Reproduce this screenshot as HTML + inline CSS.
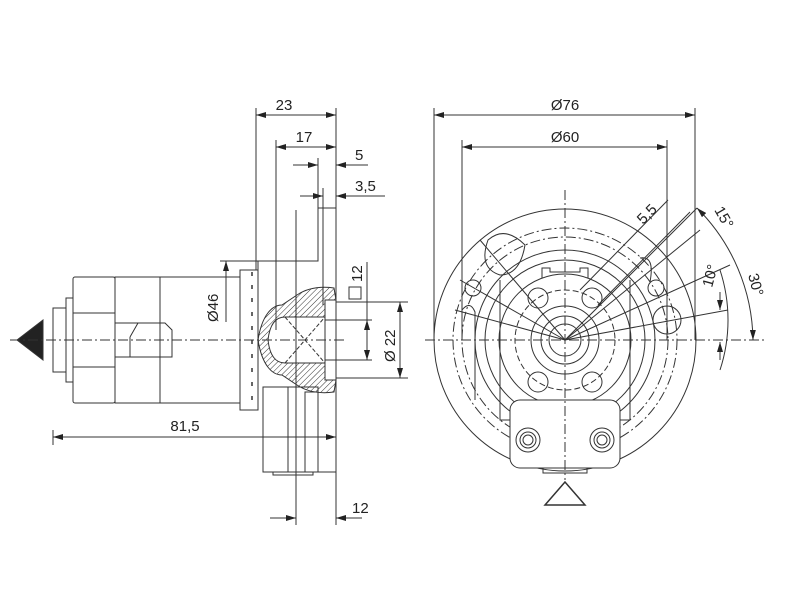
<!DOCTYPE html><html><head><style>body{margin:0;background:#fff}svg{display:block}text{font-family:"Liberation Sans",sans-serif;fill:#222}</style></head><body>
<svg width="800" height="600" viewBox="0 0 800 600" xmlns="http://www.w3.org/2000/svg">
<defs><marker id="a" viewBox="0 0 10 6" refX="10" refY="3" markerWidth="10" markerHeight="6" orient="auto-start-reverse" markerUnits="userSpaceOnUse"><path d="M0,0L10,3L0,6z" fill="#222"/></marker>
<pattern id="h" width="4" height="4" patternUnits="userSpaceOnUse" patternTransform="rotate(45)"><line x1="0" y1="0" x2="0" y2="4" stroke="#333" stroke-width="1"/></pattern></defs>
<g stroke="#333" stroke-width="1" fill="none">
<polygon points="17,340 43,320 43,360" fill="#222"/>
<rect x="53" y="308" width="13" height="64"/><rect x="66" y="298" width="7" height="84"/>
<rect x="73" y="277" width="42" height="126" rx="2"/>
<line x1="73" y1="313" x2="115" y2="313"/><line x1="73" y1="367" x2="115" y2="367"/>
<rect x="115" y="277" width="45" height="126"/><rect x="160" y="277" width="80" height="126"/>
<path d="M115,323H165L172,330V357H115M130,337L138,323M130,337V357"/>
<rect x="240" y="270" width="18" height="140"/>
<g stroke-width="1.5"><path d="M252,272v4M252,285v4M252,298v4M252,312v4M252,326v4M252,340v4M252,354v4M252,368v4M252,382v4M252,396v4"/></g>
<path d="M258,261H318V208H336V525M258,261V387M318,208H323V305"/>
<rect x="263" y="387" width="55" height="85"/><line x1="318" y1="472" x2="336" y2="472"/><line x1="288" y1="387" x2="288" y2="472"/><rect x="305" y="392" width="13" height="80"/>
<path d="M273,472V475H313V472"/>
<path d="M258,340C262,315 272,305 282,305L297,295Q312,285 334,288L336,300H325V380H336L334,392Q312,395 297,385L282,375C272,375 262,365 258,340Z" fill="url(#h)"/>
<path d="M268,340C270,322 277,317 285,317H325V363H285C277,363 270,358 268,340Z" fill="#fff"/>
<path d="M285,317L325,363M285,363L325,317" stroke-dasharray="4,2"/>
<line x1="296" y1="210" x2="296" y2="525"/>
<line x1="256" y1="108" x2="256" y2="270"/><line x1="276" y1="140" x2="276" y2="330"/><line x1="336" y1="108" x2="336" y2="208"/>
<line x1="318" y1="158" x2="318" y2="208"/><line x1="323" y1="188" x2="323" y2="208"/>
<line x1="256" y1="115" x2="336" y2="115" marker-start="url(#a)" marker-end="url(#a)"/>
<line x1="276" y1="147" x2="336" y2="147" marker-start="url(#a)" marker-end="url(#a)"/>
<line x1="293" y1="165" x2="318" y2="165" marker-end="url(#a)"/><line x1="368" y1="165" x2="336" y2="165" marker-end="url(#a)"/>
<line x1="300" y1="196" x2="323" y2="196" marker-end="url(#a)"/><line x1="385" y1="196" x2="336" y2="196" marker-end="url(#a)"/>
<line x1="220" y1="261" x2="318" y2="261"/><line x1="226" y1="261" x2="226" y2="322" marker-start="url(#a)"/>
<line x1="336" y1="302" x2="408" y2="302"/><line x1="336" y1="378" x2="408" y2="378"/><line x1="325" y1="320" x2="372" y2="320"/><line x1="325" y1="360" x2="372" y2="360"/>
<line x1="400" y1="302" x2="400" y2="378" marker-start="url(#a)" marker-end="url(#a)"/>
<line x1="367" y1="262" x2="367" y2="320"/><line x1="367" y1="320" x2="367" y2="360" marker-start="url(#a)" marker-end="url(#a)"/>
<rect x="349" y="287" width="12" height="12"/>
<line x1="53" y1="430" x2="53" y2="445"/>
<line x1="53" y1="437" x2="336" y2="437" marker-start="url(#a)" marker-end="url(#a)"/>
<line x1="270" y1="518" x2="296" y2="518" marker-end="url(#a)"/><line x1="362" y1="518" x2="336" y2="518" marker-end="url(#a)"/>
<line x1="10" y1="340" x2="345" y2="340" stroke-dasharray="10,3,2,3"/>
<line x1="434" y1="108" x2="434" y2="340"/><line x1="695" y1="108" x2="695" y2="340"/>
<line x1="462" y1="140" x2="462" y2="340"/><line x1="667" y1="140" x2="667" y2="340"/>
<line x1="434" y1="115" x2="695" y2="115" marker-start="url(#a)" marker-end="url(#a)"/>
<line x1="462" y1="147" x2="667" y2="147" marker-start="url(#a)" marker-end="url(#a)"/>
<circle cx="565" cy="340" r="131"/>
<circle cx="565" cy="340" r="112" stroke-dasharray="10,3,2,3"/>
<circle cx="565" cy="340" r="103" stroke-dasharray="10,3,2,3"/>
<circle cx="565" cy="340" r="90"/><circle cx="565" cy="340" r="80"/><circle cx="565" cy="340" r="66"/>
<circle cx="565" cy="340" r="50" stroke-dasharray="6,3"/><circle cx="565" cy="340" r="34"/><circle cx="565" cy="340" r="24"/><circle cx="565" cy="340" r="16"/>
<path d="M542,278V268H550V272H580V268H588V278" />
<path d="M500,280V420H630V280"/>
<rect x="510" y="400" width="110" height="68" rx="10" fill="#fff"/>
<circle cx="528" cy="440" r="12"/><circle cx="528" cy="440" r="8"/><circle cx="528" cy="440" r="5"/>
<circle cx="602" cy="440" r="12"/><circle cx="602" cy="440" r="8"/><circle cx="602" cy="440" r="5"/>
<rect x="543" y="468" width="44" height="5"/>
<circle cx="473" cy="288" r="8"/><circle cx="656" cy="288" r="8"/>
<circle cx="538" cy="298" r="10"/><circle cx="592" cy="298" r="10"/><circle cx="538" cy="382" r="10"/><circle cx="592" cy="382" r="10"/>
<path d="M488,240Q505,225 525,245Q520,275 500,275Q478,268 488,240Z"/>
<circle cx="667" cy="320" r="14"/>
<path d="M462,310Q470,300 475,312V400"/><path d="M640,258Q655,255 650,282"/>
<line x1="565" y1="190" x2="565" y2="480" stroke-dasharray="10,3,2,3"/>
<line x1="425" y1="340" x2="765" y2="340" stroke-dasharray="10,3,2,3"/>
<line x1="565" y1="340" x2="697" y2="208"/><line x1="565" y1="340" x2="700" y2="230" /><line x1="565" y1="340" x2="730" y2="265"/><line x1="565" y1="340" x2="728" y2="310"/>
<line x1="580" y1="290" x2="668" y2="200"/><line x1="598" y1="305" x2="690" y2="212"/>
<line x1="480" y1="240" x2="565" y2="340"/><line x1="460" y1="280" x2="565" y2="340"/><line x1="455" y1="310" x2="565" y2="340"/>
<path d="M697,208A190,190 0 0 1 753,340" marker-start="url(#a)" marker-end="url(#a)"/>
<path d="M720,270A160,160 0 0 1 720,370"/>
<line x1="720" y1="292" x2="720" y2="310" marker-end="url(#a)"/><line x1="720" y1="360" x2="720" y2="342" marker-end="url(#a)"/>
<polygon points="565,482 545,505 585,505" fill="#fff" stroke-width="1.5"/>
</g>
<g font-size="15">
<text x="284" y="110" text-anchor="middle">23</text>
<text x="304" y="142" text-anchor="middle">17</text>
<text x="355" y="160">5</text>
<text x="355" y="191">3,5</text>
<text x="185" y="431" text-anchor="middle">81,5</text>
<text x="352" y="513">12</text>
<text x="565" y="110" text-anchor="middle">Ø76</text>
<text x="565" y="142" text-anchor="middle">Ø60</text>
<text transform="translate(218,322) rotate(-90)">Ø46</text>
<text transform="translate(362,282) rotate(-90)">12</text>
<text transform="translate(395,362) rotate(-90)">Ø 22</text>
<text transform="translate(643,225) rotate(-45)">5,5</text>
<text transform="translate(714,210) rotate(60)">15°</text>
<text transform="translate(712,288) rotate(-75)">10°</text>
<text transform="translate(748,275) rotate(75)">30°</text>
</g>
</svg></body></html>
